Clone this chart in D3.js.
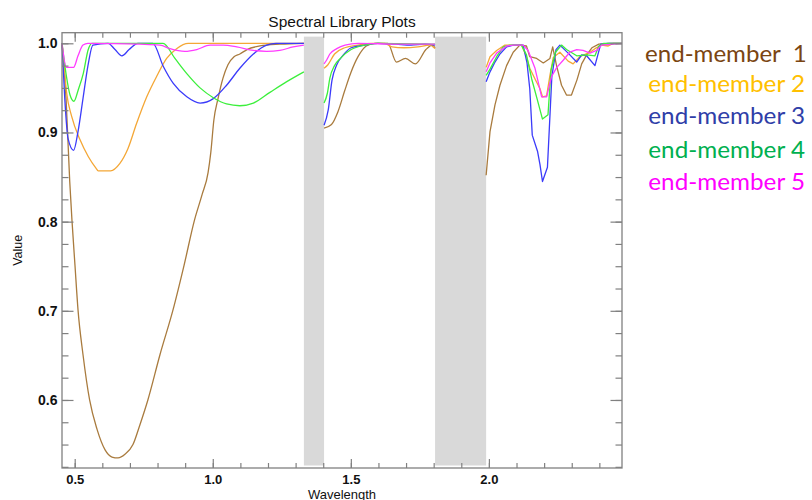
<!DOCTYPE html>
<html>
<head>
<meta charset="utf-8">
<script src="https://cdn.jsdelivr.net/npm/d3@7"></script>
<style>
  body { margin: 0; background: #fff; }
  svg { display: block; }
  .axis text { font-family: "Liberation Sans", Arial, sans-serif; fill: #111; }
</style>
</head>
<body>
<svg id="chart" width="812" height="500"></svg>
<script>
// Spectral library: wavelength (µm) and value for each end-member.
// null splits a spectrum where the water-absorption bands are masked out.
const em1Wave = [0.454, 0.469, 0.482, 0.490, 0.501, 0.512, 0.530, 0.554, 0.581, 0.610, 0.635, 0.657, 0.682, 0.711, 0.736, 0.765, 0.809, 0.856, 0.896, 0.934, 0.961, 0.983, 0.993, 1.004, 1.019, 1.037, 1.055, 1.077, 1.098, 1.124, 1.171, 1.243, 1.330,
  null,
  1.403, 1.430, 1.453, 1.478, 1.500, 1.526, 1.556, 1.587, 1.634, 1.665, 1.698, 1.734, 1.772, 1.795, 1.805,
  null,
  1.990, 2.004, 2.022, 2.040, 2.064, 2.088, 2.112, 2.136, 2.148, 2.173, 2.197, 2.221, 2.231, 2.245, 2.263, 2.281, 2.299, 2.319, 2.336, 2.354, 2.373, 2.398, 2.438, 2.482];
const em1Value = [1.000, 0.936, 0.845, 0.802, 0.751, 0.701, 0.651, 0.600, 0.567, 0.544, 0.536, 0.535, 0.539, 0.550, 0.572, 0.600, 0.651, 0.701, 0.751, 0.802, 0.830, 0.855, 0.878, 0.914, 0.938, 0.961, 0.976, 0.985, 0.988, 0.993, 0.997, 0.999, 1.000,
  null,
  0.905, 0.909, 0.923, 0.947, 0.967, 0.985, 0.997, 1.000, 1.000, 0.979, 0.983, 0.977, 0.993, 0.998, 0.995,
  null,
  0.852, 0.901, 0.931, 0.953, 0.975, 0.990, 0.998, 0.997, 0.985, 0.983, 0.978, 0.983, 0.996, 0.975, 0.953, 0.942, 0.942, 0.959, 0.977, 0.987, 0.995, 0.999, 1.000, 1.000];

const em2Wave = [0.454, 0.461, 0.471, 0.489, 0.519, 0.549, 0.577, 0.585, 0.630, 0.663, 0.693, 0.724, 0.761, 0.797, 0.833, 0.869, 0.911, 1.330,
  null,
  1.403, 1.417, 1.441, 1.478, 1.526, 1.576, 1.623, 1.649, 1.692, 1.743, 1.786, 1.805,
  null,
  1.990, 2.004, 2.028, 2.058, 2.118, 2.136, 2.148, 2.167, 2.185, 2.194, 2.209, 2.221, 2.233, 2.257, 2.287, 2.305, 2.329, 2.366, 2.384, 2.408, 2.432, 2.450, 2.482];
const em2Value = [1.000, 0.976, 0.944, 0.918, 0.892, 0.873, 0.860, 0.857, 0.857, 0.865, 0.882, 0.910, 0.940, 0.963, 0.983, 0.994, 1.000, 1.000,
  null,
  0.972, 0.976, 0.988, 0.995, 0.998, 1.000, 1.000, 0.996, 0.995, 0.996, 0.998, 0.994,
  null,
  0.973, 0.985, 0.992, 0.998, 0.998, 0.985, 0.972, 0.960, 0.949, 0.940, 0.941, 0.964, 0.984, 0.990, 0.980, 0.977, 0.985, 0.990, 0.994, 0.998, 0.997, 1.000, 1.000];

const em3Wave = [0.454, 0.464, 0.476, 0.496, 0.512, 0.530, 0.548, 0.566, 0.621, 0.646, 0.671, 0.697, 0.729, 0.783, 0.821, 0.857, 0.906, 0.954, 1.002, 1.050, 1.098, 1.147, 1.195, 1.229, 1.330,
  null,
  1.403, 1.418, 1.432, 1.449, 1.473, 1.501, 1.550, 1.598, 1.663, 1.718, 1.768, 1.805,
  null,
  1.990, 2.004, 2.022, 2.040, 2.064, 2.088, 2.124, 2.138, 2.148, 2.157, 2.176, 2.185, 2.194, 2.212, 2.223, 2.228, 2.243, 2.257, 2.287, 2.318, 2.336, 2.354, 2.384, 2.405, 2.431, 2.482];
const em3Value = [1.000, 0.938, 0.893, 0.880, 0.901, 0.938, 0.975, 0.998, 1.000, 0.993, 0.986, 0.993, 1.000, 1.000, 0.974, 0.955, 0.940, 0.933, 0.938, 0.953, 0.972, 0.988, 0.998, 1.000, 1.000,
  null,
  0.908, 0.925, 0.959, 0.976, 0.987, 0.995, 0.998, 1.000, 0.999, 0.998, 0.999, 0.998,
  null,
  0.957, 0.968, 0.979, 0.988, 0.996, 0.998, 0.998, 0.978, 0.949, 0.897, 0.879, 0.864, 0.845, 0.861, 0.931, 0.963, 0.993, 0.998, 0.989, 0.979, 0.987, 0.986, 0.975, 0.999, 1.000, 1.000];

const em4Wave = [0.454, 0.469, 0.483, 0.497, 0.513, 0.531, 0.549, 0.562, 0.820, 0.863, 0.906, 0.954, 1.002, 1.050, 1.098, 1.147, 1.207, 1.268, 1.330,
  null,
  1.403, 1.415, 1.424, 1.441, 1.465, 1.501, 1.550, 1.598, 1.805,
  null,
  1.990, 2.004, 2.028, 2.052, 2.076, 2.118, 2.136, 2.155, 2.176, 2.194, 2.214, 2.225, 2.241, 2.263, 2.281, 2.318, 2.354, 2.384, 2.398, 2.416, 2.482];
const em4Value = [1.000, 0.965, 0.942, 0.935, 0.948, 0.966, 0.993, 1.000, 1.000, 0.983, 0.966, 0.950, 0.939, 0.932, 0.930, 0.933, 0.945, 0.957, 0.968,
  null,
  0.933, 0.944, 0.961, 0.975, 0.984, 0.993, 0.998, 1.000, 0.999,
  null,
  0.964, 0.971, 0.985, 0.996, 0.998, 0.998, 0.987, 0.960, 0.936, 0.915, 0.920, 0.970, 0.990, 0.998, 0.993, 0.986, 0.987, 0.986, 0.997, 1.000, 1.000];

const em5Wave = [0.454, 0.470, 0.496, 0.512, 0.530, 0.548, 0.736, 0.809, 0.845, 0.899, 0.942, 0.990, 1.038, 1.087, 1.147, 1.195, 1.243, 1.291, 1.330,
  null,
  1.403, 1.412, 1.424, 1.449, 1.479, 1.526, 1.678, 1.805,
  null,
  1.990, 2.004, 2.028, 2.064, 2.088, 2.124, 2.142, 2.167, 2.191, 2.209, 2.227, 2.246, 2.269, 2.293, 2.318, 2.341, 2.366, 2.390, 2.408, 2.482];
const em5Value = [1.000, 0.973, 0.973, 0.986, 0.998, 1.000, 0.999, 0.998, 0.994, 0.991, 0.993, 0.998, 0.998, 0.996, 0.992, 0.991, 0.992, 0.996, 0.998,
  null,
  0.977, 0.981, 0.988, 0.994, 0.998, 1.000, 0.999, 0.999,
  null,
  0.968, 0.978, 0.989, 0.997, 0.998, 0.998, 0.992, 0.972, 0.940, 0.940, 0.963, 0.973, 0.981, 0.990, 0.993, 0.992, 0.989, 0.992, 0.998, 1.000];

const seriesNames = ["end-member  1", "end-member 2", "end-member 3", "end-member 4", "end-member 5"];
const lineColors = ["#a97b3e", "#f4a736", "#3b3bfa", "#3cef3c", "#ff3cff"];
const legendColors = ["#7a4512", "#ffc000", "#2f3ea8", "#00b050", "#ff00ff"];

// Masked absorption bands [start, end] in µm, and their value extent.
const maskBands = [[1.330, 1.403], [1.805, 1.990]];
const maskValueRange = [0.5265, 1.0075];

const xTickValues = [0.5, 1.0, 1.5, 2.0];
const xTickLabels = ["0.5", "1.0", "1.5", "2.0"];
const yTickValues = [0.6, 0.7, 0.8, 0.9, 1.0];
const yTickLabels = ["0.6", "0.7", "0.8", "0.9", "1.0"];

const titleText = "Spectral Library Plots";
const xTitle = "Wavelength";
const yTitle = "Value";

// ---- layout ----
const svg = d3.select("#chart");
const plot = { left: 62, right: 622, top: 32.7, bottom: 468 };

const x = d3.scaleLinear().domain([0.454, 2.482]).range([plot.left, plot.right]);
const y = d3.scaleLinear().domain([0.5237, 1.0119]).range([plot.bottom, plot.top]);

const xMinor = d3.range(0.5, 2.45, 0.1).map(v => +v.toFixed(2));
const yMinor = d3.range(0.525, 1.001, 0.025).map(v => +v.toFixed(3));

const axisColor = "#808080";

// masked bands
svg.append("g").selectAll("rect").data(maskBands).join("rect")
  .attr("x", d => x(d[0]))
  .attr("width", d => x(d[1]) - x(d[0]))
  .attr("y", y(maskValueRange[1]))
  .attr("height", y(maskValueRange[0]) - y(maskValueRange[1]))
  .attr("fill", "#d9d9d9");

// spectra: split each one at the masked gaps; the finely sampled VNIR/SWIR-1
// pieces are drawn smooth, the coarser SWIR-2 piece point to point
const waves = [em1Wave, em2Wave, em3Wave, em4Wave, em5Wave];
const values = [em1Value, em2Value, em3Value, em4Value, em5Value];

const pieces = [];
waves.forEach((w, i) => {
  let cur = [];
  w.forEach((wl, j) => {
    if (wl === null || values[i][j] === null) {
      if (cur.length) pieces.push({ s: i, pts: cur });
      cur = [];
    } else {
      cur.push({ w: wl, v: values[i][j] });
    }
  });
  if (cur.length) pieces.push({ s: i, pts: cur });
});

const smoothLine = d3.line().curve(d3.curveMonotoneX).x(d => x(d.w)).y(d => y(d.v));
const straightLine = d3.line().x(d => x(d.w)).y(d => y(d.v));

svg.append("g").selectAll("path")
  .data(pieces.sort((a, b) => a.s - b.s))
  .join("path")
  .attr("d", d => (d.pts[0].w < 1.9 ? smoothLine : straightLine)(d.pts))
  .attr("fill", "none")
  .attr("stroke", d => lineColors[d.s])
  .attr("stroke-width", 1.3)
  .attr("stroke-linejoin", "round");

// axes: ticks point inward on all four sides
function styleAxis(g) {
  g.select(".domain").remove();
  g.selectAll(".tick line").attr("stroke", axisColor).attr("stroke-width", 1.2);
}

svg.append("g").attr("class", "axis")
  .attr("transform", `translate(0,${plot.bottom})`)
  .call(d3.axisBottom(x).tickValues(xMinor).tickSize(-5).tickFormat(""))
  .call(styleAxis);
svg.append("g").attr("class", "axis")
  .attr("transform", `translate(0,${plot.bottom})`)
  .call(d3.axisBottom(x).tickValues(xTickValues).tickSize(-9).tickPadding(6.8)
    .tickFormat((d, i) => xTickLabels[i]))
  .call(styleAxis)
  .call(g => g.selectAll("text").attr("font-size", 13).attr("font-weight", "bold"));

svg.append("g").attr("class", "axis")
  .attr("transform", `translate(0,${plot.top})`)
  .call(d3.axisTop(x).tickValues(xMinor).tickSize(-5).tickFormat(""))
  .call(styleAxis);
svg.append("g").attr("class", "axis")
  .attr("transform", `translate(0,${plot.top})`)
  .call(d3.axisTop(x).tickValues(xTickValues).tickSize(-9).tickFormat(""))
  .call(styleAxis);

svg.append("g").attr("class", "axis")
  .attr("transform", `translate(${plot.left},0)`)
  .call(d3.axisLeft(y).tickValues(yMinor).tickSize(-6.5).tickFormat(""))
  .call(styleAxis);
svg.append("g").attr("class", "axis")
  .attr("transform", `translate(${plot.left},0)`)
  .call(d3.axisLeft(y).tickValues(yTickValues).tickSize(-11.5).tickPadding(4.5)
    .tickFormat((d, i) => yTickLabels[i]))
  .call(styleAxis)
  .call(g => g.selectAll("text").attr("font-size", 14).attr("font-weight", "bold"));

svg.append("g").attr("class", "axis")
  .attr("transform", `translate(${plot.right},0)`)
  .call(d3.axisRight(y).tickValues(yMinor).tickSize(-6.5).tickFormat(""))
  .call(styleAxis);
svg.append("g").attr("class", "axis")
  .attr("transform", `translate(${plot.right},0)`)
  .call(d3.axisRight(y).tickValues(yTickValues).tickSize(-11.5).tickFormat(""))
  .call(styleAxis);

// frame
svg.append("rect")
  .attr("x", plot.left).attr("y", plot.top)
  .attr("width", plot.right - plot.left).attr("height", plot.bottom - plot.top)
  .attr("fill", "none").attr("stroke", axisColor).attr("stroke-width", 1.3);

// titles
const sans = "'Liberation Sans', Arial, sans-serif";
svg.append("text")
  .attr("x", (plot.left + plot.right) / 2).attr("y", 27)
  .attr("text-anchor", "middle").attr("font-family", sans)
  .attr("font-size", 15.5).attr("fill", "#111")
  .text(titleText);

svg.append("text")
  .attr("x", (plot.left + plot.right) / 2).attr("y", 498.5)
  .attr("text-anchor", "middle").attr("font-family", sans)
  .attr("font-size", 13).attr("fill", "#111")
  .text(xTitle);

svg.append("text")
  .attr("transform", `translate(22,${(plot.top + plot.bottom) / 2}) rotate(-90)`)
  .attr("text-anchor", "middle").attr("font-family", sans)
  .attr("font-size", 12.5).attr("fill", "#111")
  .text(yTitle);

// legend
const legendX = [645, 648.3, 648.3, 648.3, 648.3];
const legendY = [61.7, 91.7, 124, 157.7, 190];
const legendW = [161.7, 156.7, 156.7, 156.7, 156.7];
svg.append("g").selectAll("text").data(seriesNames).join("text")
  .attr("x", (d, i) => legendX[i])
  .attr("y", (d, i) => legendY[i])
  .attr("font-family", "Lato, 'Open Sans', sans-serif")
  .attr("font-size", 24)
  .attr("fill", (d, i) => legendColors[i])
  .style("white-space", "pre")
  .attr("textLength", (d, i) => legendW[i])
  .attr("lengthAdjust", "spacingAndGlyphs")
  .text(d => d);
</script>
</body>
</html>
